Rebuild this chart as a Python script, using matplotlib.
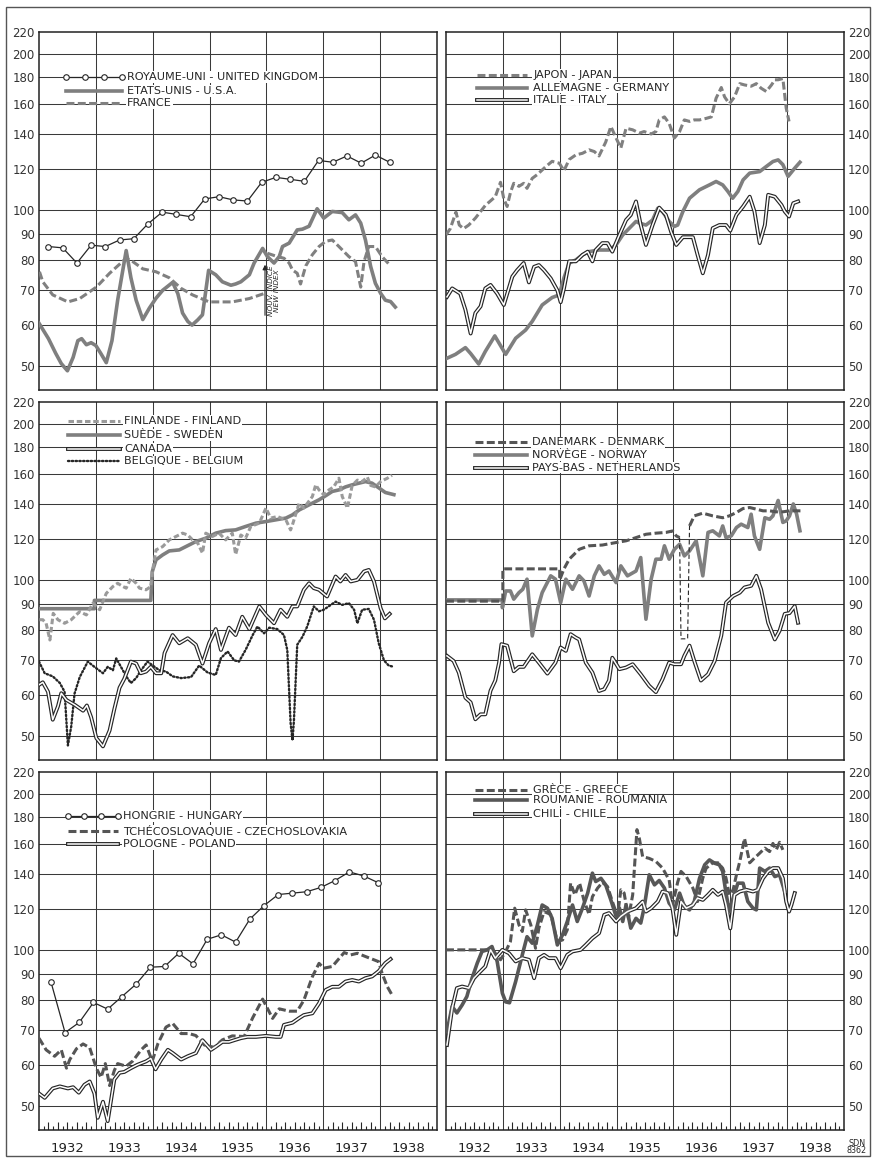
import matplotlib
matplotlib.use('Agg')
import matplotlib.pyplot as plt
from matplotlib import ticker
from matplotlib.patches import Rectangle
import numpy as np

W, H = 873, 1158

# index values on the log axis, and the years along the bottom
Y_TICKS = [50, 60, 70, 80, 90, 100, 120, 140, 160, 180, 200, 220]
YEARS = ['1932', '1933', '1934', '1935', '1936', '1937', '1938']

# --- Royaume-Uni / Etats-Unis / France  (x = months since Jan 1932) ---
UK = [85, 84.5, 79, 85.5, 85, 87.5, 88, 94, 99, 98, 97, 105, 106, 104.5, 104,
      113, 115.5, 114.5, 113.5, 124.5, 123.5, 127, 123, 127.5, 123.5]
USA = [(0, 60.5), (2, 56.5), (3.5, 53), (4.7, 50.6), (6, 49), (7.2, 52), (8.2, 56), (9, 56.5),
       (10, 55), (11, 55.5), (12, 54.8), (13, 53), (14.2, 50.8), (15.4, 56), (16.6, 67),
       (18.4, 83.5), (19.4, 74), (20.5, 67), (21.9, 61.5), (23.3, 64.7), (24.7, 67.6),
       (26.1, 70), (28.2, 72.5), (29.3, 69), (30.3, 63.3), (31.4, 61), (32.3, 60),
       (33.5, 61.4), (34.5, 62.8), (35.8, 76.5), (37.3, 75), (38.7, 72.7), (40.5, 71.6),
       (41.5, 72), (42.6, 72.7), (44.4, 75), (45.4, 79), (47.2, 84.3), (48.2, 81.3),
       (49.6, 79), (50.7, 81.3), (51.4, 85), (52.8, 86.3), (54.5, 91.5), (55.6, 91.8),
       (57, 93), (58.7, 100.5), (60.1, 96.4), (61.9, 99.3), (64, 98.8), (65.4, 95.7),
       (66.8, 97.8), (67.9, 94.3), (68.9, 87.5), (70, 77.8), (71, 72.2), (72.1, 69.1),
       (73.1, 67), (74.2, 66.6), (75.2, 65)]
FRANCE_OLD = [(0.1, 76), (0.8, 72.7), (2.9, 68.6), (6.1, 66.5), (8.6, 67.5), (12.1, 71),
              (14.9, 75.5), (18.4, 80.7), (19.8, 79.5), (21.9, 77), (24.7, 76), (27.5, 74),
              (30, 70.6), (32.4, 68.6), (35.9, 66.5), (40.8, 66.5), (44.4, 67.5), (47.5, 69)]
FRANCE_NEW = [(48.2, 82.5), (50.3, 81.3), (51.7, 80.7), (52.8, 79), (53.5, 76.6), (54.5, 75.5),
              (55.2, 72), (56.3, 78), (57.7, 82), (59.1, 85), (60.5, 87), (61.9, 87.5),
              (63.3, 85), (65.4, 81.3), (66.8, 79.5), (67.9, 71), (68.6, 79.5), (69.6, 85),
              (71, 85), (72.4, 81.3), (74.2, 78)]

# --- Japon / Allemagne / Italie ---
JAPAN = [(0, 89.5), (0.9, 92), (2.1, 99), (2.8, 93.5), (3.7, 92), (4.8, 93.5), (6.2, 96.4),
         (8.3, 102), (10.4, 106), (11.5, 113), (12.2, 105), (12.9, 101.5), (13.6, 108),
         (14.3, 112.5), (15.4, 111), (16.4, 112.5), (17.1, 110), (18.2, 115), (19.3, 117),
         (21, 121), (22.4, 124), (23.9, 123), (24.9, 119), (26, 125), (27.4, 127.6),
         (28.8, 128.5), (30.2, 130.5), (31.3, 129.5), (32.3, 127), (33.7, 135), (34.8, 144.7),
         (35.9, 137.5), (36.9, 131.5), (38, 143.6), (39.4, 142.6), (40.8, 140.5), (41.8, 141.5),
         (43.3, 140), (44.3, 141.5), (45, 149), (46.1, 151), (47.1, 146.7), (48.2, 137.5),
         (49.3, 141.5), (50.3, 149), (51.4, 148), (52.4, 149), (53.5, 149), (54.9, 150),
         (56, 151), (57, 164), (58.1, 172), (58.8, 165), (59.8, 160), (60.9, 165), (62, 175),
         (63, 174), (64.4, 173), (65.5, 175), (66.5, 171.5), (67.6, 169), (68.7, 174),
         (69.4, 178), (70.1, 178), (71.1, 179), (71.8, 157), (72.4, 148)]
GERMANY = [(0.2, 51.8), (2, 52.7), (4.1, 54.3), (5.2, 52.9), (6.9, 50.5), (8.3, 53.4),
           (10.3, 57.2), (11.5, 54.8), (12.6, 52.7), (14.7, 56.6), (16.8, 58.7), (18.2, 61),
           (20.3, 65.6), (22.4, 67.8), (23.9, 68.6), (24.9, 74), (26, 79), (27.4, 80.1),
           (28.8, 81.9), (30.2, 83.1), (32.3, 83.7), (34.4, 83.7), (35.9, 85.6), (37.3, 89.5),
           (38.7, 92.2), (40.1, 95), (40.8, 94.3), (42.2, 93.5), (43.6, 95.6), (44.7, 100.7),
           (45.7, 99.3), (47.1, 95), (48.2, 92.9), (48.9, 93.5), (50, 99.3), (51.4, 105.3),
           (53.5, 109.3), (55.6, 111.7), (57, 113.4), (58.4, 111.7), (59.5, 108.5),
           (60.5, 105.3), (61.6, 108.5), (62.7, 114.2), (64.1, 117.7), (66.2, 118.5),
           (67.6, 121.2), (69, 123.9), (70.1, 124.8), (71.1, 122.2), (72.2, 116),
           (73.6, 120.3), (74.7, 123.5)]
ITALY = [(0.2, 68), (1.3, 70.6), (3, 69), (4.1, 64.2), (5.2, 57.8), (6.2, 63.3), (7.3, 65.2),
         (8.3, 70.6), (9.4, 71.7), (10.8, 69), (12.2, 65.6), (14, 74.4), (15, 76.5), (16.4, 79),
         (17.5, 72.5), (18.6, 77.7), (19.6, 78.3), (20.7, 76.5), (22.1, 73.8), (23.5, 70),
         (24.2, 66.4), (24.9, 70.6), (26, 79.6), (27.4, 79.6), (28.8, 81.9), (29.9, 83.1),
         (30.9, 79.6), (31.6, 83.7), (33, 86.3), (34.1, 86.3), (35.1, 83.1), (36.6, 89.5),
         (38, 95.6), (39, 97.8), (40.1, 103.8), (41.1, 93.5), (42.2, 85.6), (43.6, 93.5),
         (45, 101), (46.4, 97.8), (47.5, 90.8), (48.6, 85.6), (50, 88.6), (52.1, 88.6),
         (53.1, 81.9), (54.2, 75.5), (55.3, 81.9), (56.3, 92.2), (57.7, 93.5), (59.1, 93.5),
         (60, 91.2), (61.3, 97.8), (62.7, 101.5), (64.1, 106), (65.1, 99.3), (66.2, 86.3),
         (67.3, 93.5), (68, 106.9), (69.4, 106), (70.8, 102.2), (71.5, 99.3), (72.4, 97.1),
         (73.3, 103), (74.3, 103.8)]

# --- Finlande / Suede / Canada / Belgique ---
FINLAND = [(0.1, 83.8), (0.8, 83.8), (1.5, 82.5), (2.3, 76.6), (3, 86.2), (4, 83.8),
           (5.4, 82.5), (6.8, 83.8), (8.6, 86.9), (10, 85.6), (11.4, 90.2), (12.8, 87.6),
           (14.2, 94.2), (15.6, 97.1), (16.6, 98.5), (17.7, 97.1), (18.4, 96.4), (19.4, 100.7),
           (20.5, 98.5), (21.2, 96.4), (22.6, 95.7), (23.6, 97.1), (24, 104.5), (24.7, 114.2),
           (26.1, 115.9), (27.5, 119.4), (28.9, 121.2), (30.3, 123), (31.4, 122), (32.4, 119.4),
           (33.5, 117.7), (34.5, 112.6), (35.2, 123), (36.6, 121.2), (38, 123), (39.4, 119.4),
           (40.8, 123), (41.5, 111.9), (42.6, 122), (43.6, 120.3), (44.7, 126.7), (46.5, 128.6),
           (47.9, 137.5), (48.9, 131.5), (50.3, 132.4), (52.1, 130.5), (53.1, 124.8),
           (53.5, 127.7), (54.9, 140.5), (55.9, 137.5), (57.7, 144.7), (58.4, 152.4),
           (59.1, 149), (60.1, 145.9), (61.2, 149), (62.2, 151), (63.3, 156.9), (64, 144.7),
           (65.1, 137.5), (66.1, 152), (67.2, 155.6), (68.2, 154.6), (69.3, 157.7), (70, 152),
           (71, 151), (72.1, 154.6), (73.5, 156.9), (74.5, 159)]
SWEDEN = [(0, 88), (11.7, 88), (11.7, 91.3), (23.6, 91.3), (23.9, 103.7), (24.7, 109.3),
          (26.1, 111.7), (27.5, 113.7), (29.6, 114.2), (31, 115.9), (33.1, 118.5), (35.2, 120.3),
          (37.3, 123), (39.4, 124.4), (41.5, 124.8), (43.6, 126.7), (45.8, 128.6), (47.9, 129.5),
          (50, 130.5), (52.1, 131.5), (53.5, 133.4), (54.9, 136.3), (56.3, 138.4), (57.7, 140.5),
          (59.1, 142.6), (60.5, 145.2), (61.9, 148), (63.3, 149), (64.7, 151), (66.1, 152.4),
          (67.5, 153.5), (68.9, 154.6), (70.3, 153.5), (71.7, 150.4), (73.1, 147.3),
          (74.9, 145.9)]
CANADA = [(0, 62.8), (0.8, 63.5), (1.9, 60.9), (2.9, 53.8), (4, 57.1), (4.7, 60.5), (5.8, 58.7),
          (7.5, 57.5), (9.3, 56), (10.1, 57.3), (11, 54.4), (12.1, 49.6), (13.5, 47.8),
          (14.9, 51.3), (15.9, 56.4), (17, 62), (18, 64.5), (19.4, 69.6), (20.5, 69), (21.5, 66.1),
          (22.6, 66.6), (23.6, 68), (24.7, 66.1), (25.8, 66.1), (26.5, 72.3), (28.2, 78.3),
          (29.6, 75.5), (31.4, 77.2), (33.1, 75), (34.5, 69), (35.9, 75.5), (37.3, 80.4),
          (38.4, 73.3), (40.1, 80.9), (41.5, 78.3), (42.9, 84.9), (44.4, 80.4), (46.5, 88.9),
          (47.9, 85.6), (49.6, 82.5), (51, 87.6), (52.4, 84.9), (53.5, 88.9), (54.5, 88.9),
          (55.9, 95.7), (57, 98.5), (58, 96.4), (59.1, 95.7), (60.8, 92.9), (62.6, 101.5),
          (63.6, 99.3), (64.7, 102.2), (65.8, 99.3), (67.2, 100), (68.6, 103.8), (69.6, 104.5),
          (70.7, 99.3), (72.1, 88.2), (73, 84.3), (74, 86)]
BELGIUM = [(0, 69.6), (1.2, 66.1), (2.9, 65.2), (4.4, 63.3), (5.4, 60.9), (6.1, 48), (6.8, 52.2),
           (7.5, 60.4), (8.6, 65), (10.3, 69.6), (11.7, 68), (13.5, 66.1), (14.5, 68), (15.6, 67),
           (16.3, 70.6), (17.3, 68), (18.4, 65.2), (19.4, 63.3), (20.5, 64.7), (21.5, 66.9),
           (22.9, 69.6), (24.4, 68), (25.4, 67), (26.8, 66.6), (28.2, 65.2), (30, 64.7), (32.1, 65),
           (33.8, 68.4), (35.6, 66.3), (37.3, 65.6), (38.4, 70.7), (39.8, 72.8), (41.2, 70),
           (42.2, 69.6), (43.6, 73.3), (45.1, 78.3), (46.1, 81.3), (47.5, 78.9), (48.6, 80.9),
           (50.3, 80.4), (51.7, 78.3), (52.4, 73.3), (53.1, 53), (53.5, 49.1), (53.8, 53.5),
           (54.5, 75), (55.6, 77.7), (56.6, 81.3), (58, 88.9), (59.1, 87), (60.1, 87.6), (61.2, 89),
           (62.6, 90.8), (64, 89.5), (65.4, 90.2), (66.5, 87.6), (67.2, 82.5), (68.2, 87.6),
           (69.6, 87.9), (70.7, 83.8), (71.7, 75.5), (72.8, 70), (73.8, 68.4), (74.9, 68)]

# --- Danemark / Norvege / Pays-Bas ---
DENMARK = [(0, 91), (12, 91), (12, 105), (24, 105), (24, 100), (24.9, 105), (26, 109.6),
           (28.1, 114.5), (30.2, 116.3), (33, 116.7), (35.9, 118), (38, 118.9), (40.1, 120.6),
           (42.2, 122.4), (44.3, 123), (46.4, 123.4), (47.8, 124.2), (48.6, 121.5), (49.3, 120.6)]
DENMARK_LINK = [(49.3, 120.6), (49.6, 77), (51, 77), (51.4, 127)]
DENMARK_NEW = [(51.4, 127), (52.4, 132.8), (54.2, 134.4), (56.3, 132.8), (58.4, 131.7),
               (59.8, 132.8), (61.3, 134.8), (62.7, 137.2), (64.1, 137.8), (65.5, 136.8),
               (66.9, 135.8), (68.3, 135.8), (69.7, 135.2), (71.1, 135.2), (72.5, 135.8),
               (73.6, 135.8), (75.4, 135.8)]
NORWAY = [(0, 91.5), (11.9, 91.5), (11.9, 88.4), (12.6, 95.2), (13.6, 95.2), (14.3, 91.8),
          (15.4, 94.5), (16.2, 95.9), (17.1, 100.3), (18.2, 78), (19.3, 87.8), (20.3, 94.5),
          (22.1, 101.8), (23.1, 100.3), (24.2, 90.4), (25.3, 100.3), (26.7, 95.9), (28.1, 101.8),
          (29.1, 99.6), (30.2, 93.1), (31.3, 101.8), (32.3, 106.4), (33.4, 102.5), (34.4, 104),
          (35.9, 98.8), (36.9, 106.4), (38.3, 101.8), (40.1, 104), (41.1, 110.4), (42.2, 84),
          (43.3, 100.3), (44.3, 109.6), (45.4, 109.6), (46.1, 116.3), (47.1, 109.6),
          (48.2, 114.5), (49.3, 117.1), (50.3, 111.2), (51.4, 113.7), (52.8, 118.9),
          (54.2, 101.8), (55.3, 123.4), (56.3, 124.3), (57.7, 121.5), (58.4, 127), (59.1, 120.6),
          (60.2, 121.5), (61.3, 126.1), (62.3, 128), (63.7, 126.1), (64.4, 133.8), (65.1, 121.5),
          (66.2, 114.5), (67.3, 131.7), (68.3, 130.8), (69, 132.8), (70.1, 142.2), (71.1, 129),
          (71.8, 129.9), (72.5, 132.8), (73.3, 140), (74, 133.8), (74.7, 124.3)]
NETHERLANDS = [(0.2, 71.4), (1.6, 69.8), (2.7, 66.3), (4.1, 59.3), (5.2, 58.1), (6.2, 53.9),
               (7.3, 55.1), (8.3, 55.1), (9.4, 61.2), (10.4, 64), (11.2, 69.3), (11.7, 75.2),
               (12.9, 74.7), (14.3, 66.7), (15.4, 68), (16.4, 68), (18.2, 71.9), (19.6, 69.3),
               (21.4, 66), (23.1, 69.3), (24.2, 74.1), (25.3, 73), (26.3, 78.6), (27.4, 77.4),
               (28.1, 76.8), (29.5, 69.3), (30.9, 66.3), (32.3, 61.1), (33.4, 61.6), (34.4, 64),
               (35.1, 70.8), (36.6, 67.3), (38, 67.8), (39.4, 68.8), (41.1, 65.8), (42.9, 62.5),
               (44.3, 60.8), (45.7, 64.4), (47.1, 69.3), (48.2, 68.8), (49.6, 68.8), (50.3, 71.4),
               (51.4, 74.7), (52.4, 69.8), (53.8, 64), (55.3, 65.8), (56.7, 69.8), (58.1, 78.1),
               (59.1, 90.4), (60.6, 93.1), (62, 94.5), (63, 96.7), (64.4, 97.4), (65.5, 101.8),
               (66.5, 95.9), (68, 82.7), (69.4, 76.8), (70.4, 79.8), (71.5, 86), (72.5, 86.3),
               (73.6, 89), (74.3, 82.7)]

# --- Hongrie / Tchecoslovaquie / Pologne ---
HUNGARY = [86.9, 69.3, 72.5, 79.2, 76.9, 81.3, 85.9, 92.6, 92.9, 98.5, 94, 104.8, 106.9,
           103.5, 114.6, 121.7, 127.8, 128.6, 129.4, 131.9, 136, 141.3, 138.8, 134.8]
CZECH = [(0, 67.6), (1.5, 64.2), (3.3, 62.4), (4.7, 64.2), (5.8, 59.2), (6.5, 61.5), (7.9, 64.5),
         (9.3, 65.9), (10.7, 64.8), (12.1, 59.2), (13.1, 56.8), (14, 60.4), (14.9, 54.8),
         (15.9, 58.6), (16.6, 60.4), (18.4, 59.7), (19.8, 61.1), (21.5, 64.1), (22.6, 65.6),
         (23.9, 61.1), (25.1, 66), (26.8, 71), (28.2, 72.2), (30, 69), (31.7, 69), (33.1, 68.4),
         (34.9, 65.6), (37, 64.9), (38.7, 67.1), (40.8, 68.3), (43.3, 68.1), (45.1, 74),
         (47.2, 80.4), (49.3, 73.8), (50.7, 77), (52.8, 76.2), (54.5, 76.2), (55.9, 80),
         (57.7, 88.8), (59.1, 94.2), (60.1, 92.2), (61.9, 92.9), (64.4, 98.8), (65.8, 97.8),
         (67.2, 98.5), (68.9, 97.1), (71.7, 94.9), (72.4, 90.2), (73.5, 85), (74.5, 81.9)]
POLAND = [(0, 52.9), (1.2, 51.9), (2.9, 54.1), (4.4, 54.6), (6.1, 54.1), (7.2, 54.4), (8.4, 53.1),
          (9.6, 55), (10.7, 55.8), (11.7, 52.9), (12.4, 47.5), (13.5, 51), (14.5, 46.8),
          (15.9, 56.3), (17, 58), (18, 58.2), (19.4, 59.2), (20.8, 60.1), (22.6, 61), (23.6, 61.8),
          (24.6, 58.9), (25.8, 61.5), (27.2, 64.2), (28.2, 63.3), (30, 61.5), (31.4, 62.4),
          (33.1, 63.3), (34.5, 67), (36.3, 64.2), (37.3, 65.1), (38.7, 66.5), (40.1, 66.5),
          (41.2, 67), (42.6, 67.6), (44, 68), (45.8, 68), (47.9, 68.3), (50, 68), (51, 68),
          (51.7, 71.7), (53.5, 72.4), (54.9, 73.9), (55.9, 74.9), (57.7, 75.5), (59.1, 78.9),
          (60.5, 83.7), (61.9, 84.9), (63.3, 84.9), (64.7, 86.9), (66.1, 87.5), (67.5, 86.9),
          (68.9, 88.2), (70.3, 88.9), (71.7, 91), (73.1, 94.3), (74.2, 96)]

# --- Grece / Roumanie / Chili ---
GREECE = [(0, 100), (9.7, 100), (10.4, 98.5), (11.5, 95.7), (12.6, 99.3), (13.6, 103.8),
          (14.5, 120.3), (15.4, 111.7), (16.1, 108.5), (16.8, 119.4), (17.9, 111.7), (18.9, 100.7),
          (19.6, 110.1), (20.7, 118.5), (22.1, 117), (23.5, 103.8), (24.6, 104.5), (25.6, 109.3),
          (26.3, 134.4), (27.2, 127.6), (28.2, 134.4), (29.1, 124.7), (30.2, 117), (30.9, 126.6),
          (32, 131.5), (33, 134.8), (34.1, 132.4), (35.1, 124), (36.2, 116), (36.9, 130.5),
          (37.6, 128.6), (38.5, 115), (39.4, 127.6), (40.3, 170.4), (40.8, 164), (41.5, 151.2),
          (42.9, 150), (44.3, 148), (45.7, 143.7), (47.1, 136.3), (47.8, 122), (48.9, 135),
          (49.6, 141.6), (50.7, 138.4), (52.1, 131.5), (53.1, 123.9), (54.2, 137.5),
          (54.9, 143.6), (56.3, 147.1), (57.4, 147.1), (58.4, 143.6), (59.1, 137.5),
          (59.8, 127.6), (60.6, 130.5), (61.3, 139.5), (62, 147.9), (63, 163.9), (64.1, 147.1),
          (65.1, 150.2), (66.2, 153.5), (67.3, 157), (68.3, 154.6), (69, 160.3), (69.7, 155.8),
          (70.4, 161.1), (71.1, 155.8)]
ROMANIA = [(0.2, 69.6), (1.3, 77.8), (2.3, 75.6), (3.4, 78.3), (4.4, 81.3), (5.5, 88.2),
           (6.6, 94.3), (7.6, 99.3), (8.7, 100), (9.7, 101.5), (10.8, 95), (11.9, 82.5),
           (12.6, 79.4), (13.4, 79.1), (14.7, 86.9), (16.1, 97.8), (17.1, 106), (18.2, 103),
           (19.3, 111.7), (20.3, 122), (21.4, 120.3), (22.4, 115), (23.5, 102.2), (24.6, 106.9),
           (25.6, 113.4), (26.7, 122), (27.7, 113.4), (28.8, 120.3), (29.9, 128.6), (30.9, 140.5),
           (31.6, 135.4), (32.7, 137.3), (33.7, 133.4), (34.8, 124.7), (35.9, 116), (36.6, 120.3),
           (37.3, 113.4), (38, 122), (39, 110.1), (40.1, 115), (41.1, 112.6), (41.8, 120.3),
           (42.9, 139.5), (44, 133.4), (45, 136), (46.1, 131.5), (47.1, 123), (48.2, 119.4),
           (49.3, 128.6), (50.3, 121.2), (51.4, 119.4), (52.4, 123.9), (53.5, 137.3),
           (54.6, 145.8), (55.6, 149), (56.7, 146.8), (57.7, 145.8), (58.4, 141.6), (59.1, 128.6),
           (59.8, 118.5), (60.6, 125.8), (61.6, 134.4), (62.7, 134.4), (63.7, 123.9),
           (64.8, 120.3), (65.5, 119.4), (66.2, 143.7), (67.3, 141.6), (68.3, 143.7),
           (69.4, 138.4), (70.4, 139.5), (71.5, 129.5)]
CHILE = [(0.2, 65.6), (1.3, 77.2), (2.3, 84.4), (3.4, 85), (4.8, 84.4), (5.9, 88.2), (6.9, 90.2),
         (8.3, 92.9), (9.4, 100), (10.4, 96.4), (11.9, 100), (13.3, 98.5), (14.7, 95), (16.1, 96.4),
         (17.5, 95.7), (18.6, 88.2), (19.6, 96.4), (20.7, 97.8), (21.7, 96.4), (23.1, 96.4),
         (24.2, 92.2), (25.6, 97.8), (26.7, 99.3), (28.4, 100), (29.5, 102.2), (30.9, 105.3),
         (32.3, 107.7), (33.4, 116.8), (34.4, 117.7), (35.9, 113.4), (36.9, 116), (38.3, 118.5),
         (40.1, 120.3), (41.5, 123.9), (42.2, 118.5), (43.3, 120.3), (44.7, 123.9), (45.7, 129.5),
         (46.8, 128.6), (47.8, 120.3), (48.6, 106.9), (49.6, 123.9), (50.7, 120.3), (52.1, 122),
         (53.1, 125.8), (54.2, 124.8), (55.3, 127.6), (56.3, 130.5), (57.4, 127.6), (58.4, 129.5),
         (59.1, 122), (60, 110), (60.9, 127.6), (62, 129.5), (63.4, 130.5), (64.8, 129.5),
         (65.8, 130.5), (66.9, 137.3), (68, 141.6), (69, 143.7), (70.1, 143.7), (71.1, 137.3),
         (71.8, 123.9), (72.4, 118.5), (72.9, 122), (73.6, 128.6)]

INK = '#262626'
GRID = '#3a3a3a'


def draw(ax, x, y, kind, z=3):
    '''Draw one series (or a legend sample) in one of the drawing styles.'''
    if kind == 'circles':
        ax.plot(x, y, color=INK, lw=0.9, marker='o', ms=4, mfc='white', mec=INK, mew=0.8, zorder=z)
    elif kind == 'thick':
        ax.plot(x, y, color='#7f7f7f', lw=2.6, solid_joinstyle='round', zorder=z)
    elif kind == 'thick_dark':
        ax.plot(x, y, color='#575757', lw=2.6, solid_joinstyle='round', zorder=z)
    elif kind == 'dashed':
        ax.plot(x, y, color='#808080', lw=2.2, ls=(0, (2.6, 1.1)), zorder=z)
    elif kind == 'dashed_dark':
        ax.plot(x, y, color='#555555', lw=2.2, ls=(0, (2.6, 1.1)), zorder=z)
    elif kind == 'dashed_light':
        ax.plot(x, y, color='#9a9a9a', lw=2.2, ls=(0, (1.8, 0.9)), zorder=z)
    elif kind == 'double':
        ax.plot(x, y, color=INK, lw=2.8, solid_joinstyle='round', zorder=z)
        ax.plot(x, y, color='white', lw=1.1, solid_joinstyle='round', zorder=z + 0.1)
    elif kind == 'dotted':
        ax.plot(x, y, color=INK, lw=1.7, ls=(0, (0.6, 1.0)), dash_capstyle='round', zorder=z)
    elif kind == 'thin_dashed':
        ax.plot(x, y, color=INK, lw=0.8, ls=(0, (4, 2.5)), zorder=z)


def series(ax, pts, kind):
    x, y = zip(*pts)
    draw(ax, x, y, kind)


def legend(ax, rows, x0, x1, xt):
    '''rows: (label, style, index level)'''
    for label, kind, level in rows:
        if kind == 'circles':
            draw(ax, np.linspace(x0, x1, 4), [level] * 4, kind, z=6)
        else:
            draw(ax, [x0, x1], [level, level], kind, z=6)
        ax.text(xt, level, label, fontsize=8.1, color=INK, va='center', ha='left', zorder=7,
                bbox=dict(facecolor='white', edgecolor='none', pad=0.6))


fig = plt.figure(figsize=(W / 100, H / 100), dpi=100)
fig.patch.set_facecolor('white')


def panel(x0, y0, x1, y1, right, bottom):
    ax = fig.add_axes([x0 / W, 1 - y1 / H, (x1 - x0) / W, (y1 - y0) / H])
    ax.set_yscale('log')
    ax.set_ylim(45, 220)
    ax.set_xlim(0, 84)
    ax.yaxis.set_minor_locator(ticker.NullLocator())
    ax.set_yticks(Y_TICKS, labels=[str(v) for v in Y_TICKS])
    ax.tick_params(axis='y', length=0, pad=3, labelsize=8.5, labelcolor='#333333')
    if right:
        ax.yaxis.tick_right()
    for v in Y_TICKS[:-1]:
        ax.axhline(v, color=GRID, lw=0.75, zorder=1)
    for m in range(12, 84, 12):
        ax.axvline(m, color=GRID, lw=0.75, zorder=1)
    for s in ax.spines.values():
        s.set_color('#222222')
        s.set_linewidth(1.1)
    if bottom:
        ax.set_xticks([6 + 12 * i for i in range(7)], labels=YEARS)
        ax.tick_params(axis='x', length=0, pad=9, labelsize=9.5, labelcolor='#222222')
        months = [m for m in range(1, 84) if m % 12]
        short = [m for m in months if m % 2]
        tall = [m for m in months if m % 2 == 0]
        ax.vlines(short, 0, 0.012, transform=ax.get_xaxis_transform(), color=INK, lw=0.8)
        ax.vlines(tall, 0, 0.022, transform=ax.get_xaxis_transform(), color=INK, lw=0.8)
    else:
        ax.set_xticks([])
    return ax


LEFT = (39, 437)
RIGHT = (446, 844)
ROWS = [(32, 390), (402, 760), (772, 1130)]

# Royaume-Uni / Etats-Unis / France
ax = panel(LEFT[0], ROWS[0][0], LEFT[1], ROWS[0][1], False, False)
series(ax, USA, 'thick')
series(ax, FRANCE_OLD, 'dashed')
series(ax, FRANCE_NEW, 'dashed')
series(ax, list(zip(range(2, 3 * len(UK), 3), UK)), 'circles')
ax.annotate('', xy=(47.7, 79.4), xytext=(47.7, 61.9),
            arrowprops=dict(arrowstyle='-|>', color=INK, lw=0.8, mutation_scale=7), zorder=5)
ax.text(49.6, 70, 'NOUV. INDICE\nNEW INDEX', rotation=90, fontsize=5.3, style='italic',
        color=INK, ha='center', va='center', linespacing=1.0, zorder=5)
legend(ax, [('ROYAUME-UNI - UNITED KINGDOM', 'circles', 180),
            ('ETATS-UNIS - U.S.A.', 'thick', 169.5),
            ('FRANCE', 'dashed', 160.5)], 5.8, 17.6, 18.6)

# Japon / Allemagne / Italie
ax = panel(RIGHT[0], ROWS[0][0], RIGHT[1], ROWS[0][1], True, False)
series(ax, GERMANY, 'thick')
series(ax, ITALY, 'double')
series(ax, JAPAN, 'dashed')
legend(ax, [('JAPON - JAPAN', 'dashed', 182),
            ('ALLEMAGNE - GERMANY', 'thick', 172),
            ('ITALIE - ITALY', 'double', 163)], 6.6, 17.1, 18.4)

# Finlande / Suede / Canada / Belgique
ax = panel(LEFT[0], ROWS[1][0], LEFT[1], ROWS[1][1], False, False)
series(ax, SWEDEN, 'thick')
series(ax, FINLAND, 'dashed_light')
series(ax, CANADA, 'double')
series(ax, BELGIUM, 'dotted')
legend(ax, [('FINLANDE - FINLAND', 'dashed_light', 202),
            ('SUÈDE - SWEDEN', 'thick', 190),
            ('CANADA', 'double', 179),
            ('BELGIQUE - BELGIUM', 'dotted', 169)], 6.1, 17.0, 18.0)

# Danemark / Norvege / Pays-Bas
ax = panel(RIGHT[0], ROWS[1][0], RIGHT[1], ROWS[1][1], True, False)
series(ax, NORWAY, 'thick')
series(ax, DENMARK, 'dashed_dark')
series(ax, DENMARK_LINK, 'thin_dashed')
series(ax, DENMARK_NEW, 'dashed_dark')
series(ax, NETHERLANDS, 'double')
legend(ax, [('DANEMARK - DENMARK', 'dashed_dark', 184),
            ('NORVÈGE - NORWAY', 'thick', 174),
            ('PAYS-BAS - NETHERLANDS', 'double', 164.5)], 6.2, 17.1, 18.2)

# Hongrie / Tchecoslovaquie / Pologne
ax = panel(LEFT[0], ROWS[2][0], LEFT[1], ROWS[2][1], False, True)
series(ax, POLAND, 'double')
series(ax, CZECH, 'dashed_dark')
series(ax, [(2.5 + 3 * i, v) for i, v in enumerate(HUNGARY)], 'circles')
legend(ax, [('HONGRIE - HUNGARY', 'circles', 181),
            ('TCHÉCOSLOVAQUIE - CZECHOSLOVAKIA', 'dashed_dark', 169),
            ('POLOGNE - POLAND', 'double', 160)], 6.1, 16.6, 17.7)

# Grece / Roumanie / Chili
ax = panel(RIGHT[0], ROWS[2][0], RIGHT[1], ROWS[2][1], True, True)
series(ax, CHILE, 'double')
series(ax, ROMANIA, 'thick_dark')
series(ax, GREECE, 'dashed_dark')
legend(ax, [('GRÈCE - GREECE', 'dashed_dark', 203),
            ('ROUMANIE - ROUMANIA', 'thick_dark', 194),
            ('CHILI - CHILE', 'double', 183)], 6.2, 17.1, 18.4)

fig.text(857 / W, 1 - 1147 / H, 'SDN\n8362', fontsize=5.8, color=INK, ha='center', va='center',
         linespacing=0.85)

# sheet border
fig.patches.append(Rectangle((6 / W, 1 - 1156 / H), 864 / W, 1149 / H, transform=fig.transFigure,
                             fill=False, edgecolor='#555555', lw=1.0))

fig.savefig('out.png', dpi=100, facecolor='white')
